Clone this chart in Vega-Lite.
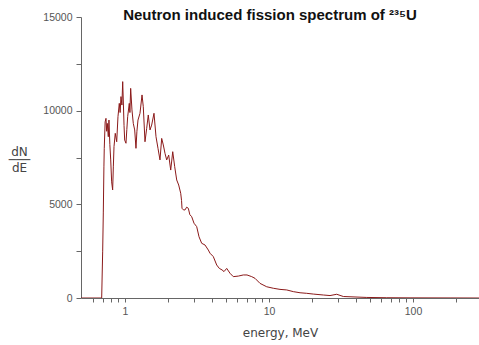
{
  "$schema": "https://vega.github.io/schema/vega-lite/v6.json",
  "width": 398,
  "height": 281,
  "autosize": {"type": "none"},
  "padding": {"left": 81, "top": 17, "right": 0, "bottom": 47},
  "background": "white",
  "title": {
    "text": "Neutron induced fission spectrum of ²³⁵U",
    "font": "Liberation Sans",
    "fontSize": 15,
    "fontWeight": "bold",
    "color": "#111111",
    "anchor": "middle",
    "dx": -10,
    "dy": 23,
    "offset": 0,
    "baseline": "alphabetic"
  },
  "config": {"view": {"stroke": null}},
  "data": {
    "values": [
      {"E": 0.495, "v": 0}, {"E": 0.6, "v": 0}, {"E": 0.689, "v": 0},
      {"E": 0.7, "v": 2500}, {"E": 0.707, "v": 4540}, {"E": 0.714, "v": 7000},
      {"E": 0.718, "v": 7990}, {"E": 0.728, "v": 9400}, {"E": 0.738, "v": 9590},
      {"E": 0.746, "v": 8900}, {"E": 0.754, "v": 9320}, {"E": 0.766, "v": 8610},
      {"E": 0.774, "v": 9500}, {"E": 0.785, "v": 8200}, {"E": 0.796, "v": 7370},
      {"E": 0.808, "v": 6200}, {"E": 0.821, "v": 5770}, {"E": 0.83, "v": 7000},
      {"E": 0.839, "v": 8080}, {"E": 0.856, "v": 8790}, {"E": 0.876, "v": 8340},
      {"E": 0.894, "v": 9680}, {"E": 0.913, "v": 10390}, {"E": 0.925, "v": 9900},
      {"E": 0.938, "v": 10750}, {"E": 0.952, "v": 10300}, {"E": 0.964, "v": 11550},
      {"E": 0.973, "v": 10570}, {"E": 0.985, "v": 9200}, {"E": 0.995, "v": 8430},
      {"E": 1.016, "v": 8260}, {"E": 1.03, "v": 9000}, {"E": 1.044, "v": 9680},
      {"E": 1.071, "v": 10390}, {"E": 1.082, "v": 9900}, {"E": 1.095, "v": 11190},
      {"E": 1.118, "v": 10040}, {"E": 1.142, "v": 9320}, {"E": 1.168, "v": 8970},
      {"E": 1.192, "v": 7990}, {"E": 1.21, "v": 8900}, {"E": 1.231, "v": 9500},
      {"E": 1.271, "v": 9860}, {"E": 1.313, "v": 10840}, {"E": 1.34, "v": 10210},
      {"E": 1.377, "v": 8340}, {"E": 1.415, "v": 9060}, {"E": 1.451, "v": 9770},
      {"E": 1.492, "v": 8970}, {"E": 1.532, "v": 9230}, {"E": 1.59, "v": 9860},
      {"E": 1.642, "v": 8610}, {"E": 1.695, "v": 7990}, {"E": 1.75, "v": 7370},
      {"E": 1.798, "v": 8520}, {"E": 1.845, "v": 8170}, {"E": 1.896, "v": 7720},
      {"E": 1.948, "v": 7370}, {"E": 2.011, "v": 7630}, {"E": 2.077, "v": 6830},
      {"E": 2.145, "v": 7810}, {"E": 2.214, "v": 7010}, {"E": 2.286, "v": 6300},
      {"E": 2.36, "v": 6030}, {"E": 2.437, "v": 5590}, {"E": 2.47, "v": 5200},
      {"E": 2.488, "v": 4790}, {"E": 2.55, "v": 4700}, {"E": 2.61, "v": 4700},
      {"E": 2.68, "v": 4850}, {"E": 2.752, "v": 4790}, {"E": 2.82, "v": 4450},
      {"E": 2.905, "v": 4340}, {"E": 3.015, "v": 3990}, {"E": 3.147, "v": 3810},
      {"E": 3.265, "v": 3270}, {"E": 3.409, "v": 2920}, {"E": 3.594, "v": 2830},
      {"E": 3.789, "v": 2560}, {"E": 3.893, "v": 2390}, {"E": 4.104, "v": 2210},
      {"E": 4.333, "v": 1760}, {"E": 4.518, "v": 1580}, {"E": 4.717, "v": 1500},
      {"E": 4.87, "v": 1410}, {"E": 5.085, "v": 1580}, {"E": 5.36, "v": 1320},
      {"E": 5.65, "v": 1140}, {"E": 6.121, "v": 1170}, {"E": 6.63, "v": 1230},
      {"E": 7.034, "v": 1230}, {"E": 7.585, "v": 1140}, {"E": 7.995, "v": 1050},
      {"E": 8.66, "v": 780}, {"E": 9.638, "v": 600}, {"E": 10.71, "v": 520},
      {"E": 11.92, "v": 460}, {"E": 13.27, "v": 430}, {"E": 14.75, "v": 340},
      {"E": 16.42, "v": 280}, {"E": 18.27, "v": 250}, {"E": 20.3, "v": 210},
      {"E": 23.84, "v": 160}, {"E": 26.52, "v": 130}, {"E": 29.52, "v": 200},
      {"E": 32.81, "v": 80}, {"E": 47.7, "v": 30}, {"E": 65.7, "v": 15},
      {"E": 95.3, "v": 8}, {"E": 180.7, "v": 4}, {"E": 287, "v": 0}
    ]
  },
  "mark": {"type": "line", "color": "#8B1A1A", "strokeWidth": 1, "clip": true},
  "encoding": {
    "x": {
      "field": "E",
      "type": "quantitative",
      "scale": {"type": "log", "domain": [0.495, 287], "nice": false},
      "axis": {
        "values": [0.6, 0.7, 0.8, 0.9, 1, 2, 3, 4, 5, 6, 7, 8, 9, 10, 20, 30, 40, 50, 60, 70, 80, 90, 100, 200],
        "labelExpr": "datum.value == 1 ? '1' : datum.value == 10 ? '10' : datum.value == 100 ? '100' : ''",
        "labelOverlap": false,
        "labelFlush": false,
        "grid": false,
        "domainColor": "#666666",
        "tickColor": "#666666",
        "tickSize": 4,
        "labelFont": "Liberation Sans",
        "labelFontSize": 10.5,
        "labelColor": "#555555",
        "labelPadding": 4,
        "title": "energy, MeV",
        "titleFont": "DejaVu Sans",
        "titleFontSize": 12,
        "titleFontWeight": "normal",
        "titleColor": "#444444",
        "titlePadding": 11
      }
    },
    "y": {
      "field": "v",
      "type": "quantitative",
      "scale": {"domain": [0, 15000], "nice": false},
      "axis": {
        "values": [0, 2500, 5000, 7500, 10000, 12500, 15000],
        "labelExpr": "datum.value % 5000 == 0 ? format(datum.value, 'd') : ''",
        "labelOverlap": false,
        "labelFlush": false,
        "grid": false,
        "domainColor": "#666666",
        "tickColor": "#666666",
        "tickSize": 5,
        "labelFont": "Liberation Sans",
        "labelFontSize": 10.5,
        "labelColor": "#555555",
        "labelPadding": 4,
        "title": ["dN", "───", "dE"],
        "titleFont": "DejaVu Sans",
        "titleFontSize": 12,
        "titleFontWeight": "normal",
        "titleColor": "#444444",
        "titleAngle": 0,
        "titleAlign": "center",
        "titleBaseline": "top",
        "titleLineHeight": 8,
        "titleX": -62,
        "titleY": 129
      }
    }
  }
}
